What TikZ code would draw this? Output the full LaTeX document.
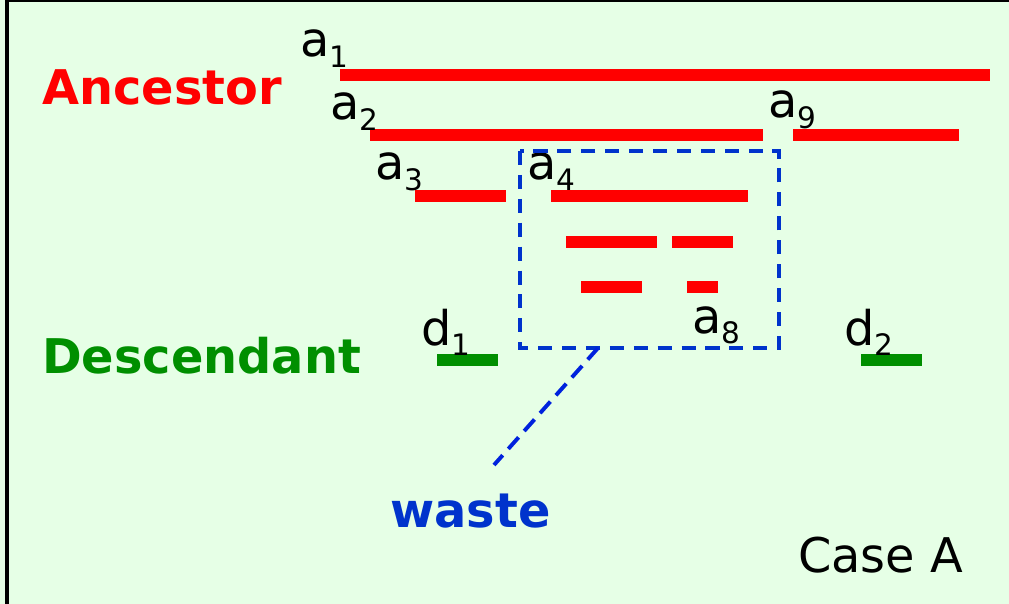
\documentclass[tikz,border=0pt]{standalone}
\usepackage{fontspec}
\setmainfont{DejaVu Sans}
\usepackage{tikz}
\usetikzlibrary{calc}
\usepackage{xcolor}
\definecolor{bggreen}{HTML}{E6FFE6}
\definecolor{ancred}{HTML}{FF0000}
\definecolor{descgreen}{HTML}{008F00}
\definecolor{wasteblue}{HTML}{0033CC}
\definecolor{lineblue}{HTML}{0022DD}
\newcommand{\lsub}[1]{\raisebox{-0.27cm}{\fontsize{21pt}{21pt}\selectfont #1}}
\tikzset{
  frame/.style={line width=1.6pt, draw=black},
  anc/.style={line width=8.4pt, draw=ancred},
  desc/.style={line width=8.4pt, draw=descgreen},
  wastebox/.style={line width=2.8pt, draw=wasteblue, dash pattern=on 10pt off 7pt},
  wasteline/.style={line width=2.8pt, draw=lineblue, dash pattern=on 11pt off 6pt},
  lbl/.style={inner sep=0pt, anchor=base west, font=\fontsize{34pt}{34pt}\selectfont, text=black},
  head/.style={inner sep=0pt, anchor=base west, font=\fontsize{34pt}{34pt}\selectfont\bfseries},
}

\begin{document}
\begin{tikzpicture}[x=0.025cm, y=-0.025cm]  % 1 unit = 1 px of the slide
  \useasboundingbox (0,0) rectangle (1009,604);
  \fill[bggreen] (0,0) rectangle (1009,604);
  \draw[frame] (7,1) -- (1009,1);
  \draw[frame, line width=2.6pt] (7,604) -- (7,0);
  % headings
  \node[head, text=ancred] (ancestor) at (42,105) {Ancestor};
  \node[head, text=descgreen] (descendant) at (42,373) {Descendant};
  % ancestor fragments
  \draw[anc] (340,75) -- (990,75);
  \draw[anc] (370,135) -- (763,135);
  \draw[anc] (793,135) -- (959,135);
  \draw[anc] (415,196) -- (506,196);
  \draw[anc] (551,196) -- (748,196);
  \draw[anc] (566,242) -- (657,242);
  \draw[anc] (672,242) -- (733,242);
  \draw[anc] (581,287) -- (642,287);
  \draw[anc] (687,287) -- (718,287);
  % descendant fragments
  \draw[desc] (437,360) -- (498,360);
  \draw[desc] (861,360) -- (922,360);
  % labels
  \node[lbl] (a1) at (300,57) {a\lsub{1}};
  \node[lbl] (a2) at (330,120) {a\lsub{2}};
  \node[lbl] (a3) at (375,180) {a\lsub{3}};
  \node[lbl] (a4) at (527,180) {a\lsub{4}};
  \node[lbl] (a8) at (692,333) {a\lsub{8}};
  \node[lbl] (a9) at (768,118) {a\lsub{9}};
  \node[lbl] (d1) at (421,345) {d\lsub{1}};
  \node[lbl] (d2) at (844,345) {d\lsub{2}};
  % waste region
  \draw[wastebox] (520,151) rectangle (779,348);
  \coordinate (boxfoot) at (598,348);
  \coordinate (tail) at (494,465);
  \draw[wasteline] (boxfoot) -- (tail);
  \node[head, text=wasteblue] (waste) at (390,527) {waste};
  \node[lbl] (casea) at (798,572) {Case A};
\end{tikzpicture}
\end{document}
